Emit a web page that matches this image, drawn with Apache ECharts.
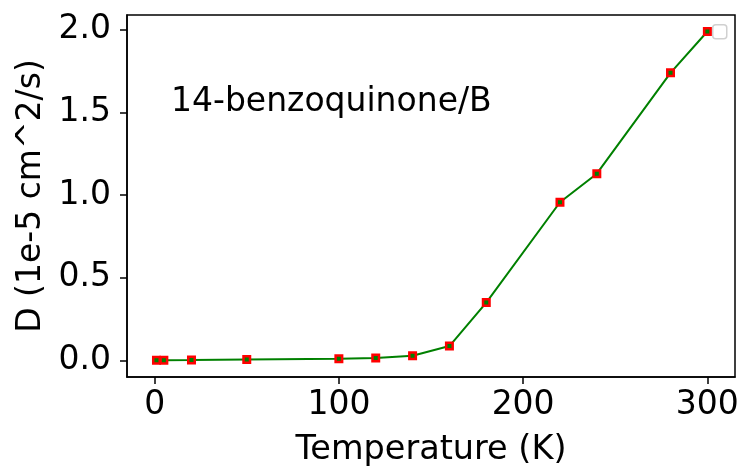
<!DOCTYPE html>
<html>
<head>
<meta charset="utf-8">
<script src="https://cdn.jsdelivr.net/npm/echarts@6/dist/echarts.min.js"></script>
<style>html,body{margin:0;padding:0;background:#fff}#c{width:742px;height:469px}</style>
</head>
<body>
<div id="c"></div>
<script>
const temperatures = [1, 5, 20, 50, 100, 120, 140, 160, 180, 220, 240, 280, 300];
const diffusion = [0.002, 0.002, 0.003, 0.006, 0.011, 0.015, 0.029, 0.087, 0.35, 0.957, 1.13, 1.74, 1.99];
const xTicks = [0, 100, 200, 300];
const yTicks = [0.0, 0.5, 1.0, 1.5, 2.0];
const annotation = '14-benzoquinone/B';

const font = 'DejaVu Sans';
const chart = echarts.init(document.getElementById('c'), null, {renderer: 'canvas'});
chart.setOption({
  animation: false,
  backgroundColor: '#fff',
  grid: {left: 127, top: 15, right: 7, bottom: 92, outerBoundsMode: 'none', containLabel: false,
    show: true, borderColor: '#000', borderWidth: 1.5, backgroundColor: 'transparent'},
  xAxis: {
    type: 'value', min: -15, max: 315, interval: 100,
    name: 'Temperature (K)', nameLocation: 'middle', nameGap: 56,
    nameTextStyle: {fontFamily: font, fontSize: 33.5, color: '#000'},
    axisLine: {show: true, onZero: false, lineStyle: {color: '#000', width: 1.5}},
    axisTick: {show: true, length: 7, lineStyle: {color: '#000', width: 1.5}, customValues: xTicks},
    axisLabel: {fontFamily: font, fontSize: 33, color: '#000', margin: 12, customValues: xTicks,
      formatter: v => String(v)},
    splitLine: {show: false}
  },
  yAxis: {
    type: 'value', min: -0.1, max: 2.09,
    name: 'D (1e-5 cm^2/s)', nameLocation: 'middle', nameGap: 78,
    nameTextStyle: {fontFamily: font, fontSize: 33, color: '#000'},
    axisLine: {show: true, onZero: false, lineStyle: {color: '#000', width: 1.5}},
    axisTick: {show: true, length: 7, lineStyle: {color: '#000', width: 1.5}, customValues: yTicks},
    axisLabel: {fontFamily: font, fontSize: 33, color: '#000', margin: 16, customValues: yTicks,
      formatter: v => v.toFixed(1)},
    splitLine: {show: false}
  },
  graphic: [
    {type: 'text', left: 171, top: 86, style: {text: annotation, fontFamily: font, fontSize: 33, fill: '#000'}},
    {type: 'rect', left: 712, top: 24, shape: {width: 14, height: 14, r: 3}, style: {fill: '#fff', stroke: '#d0d0d0', lineWidth: 1.5}}
  ],
  series: [{
    type: 'line',
    data: temperatures.map((t, i) => [t, diffusion[i]]),
    lineStyle: {color: '#008000', width: 2},
    symbol: 'rect', symbolSize: 6.5,
    itemStyle: {color: '#008000', borderColor: '#ff0000', borderWidth: 2.5},
    z: 3
  }]
});
</script>
</body>
</html>
